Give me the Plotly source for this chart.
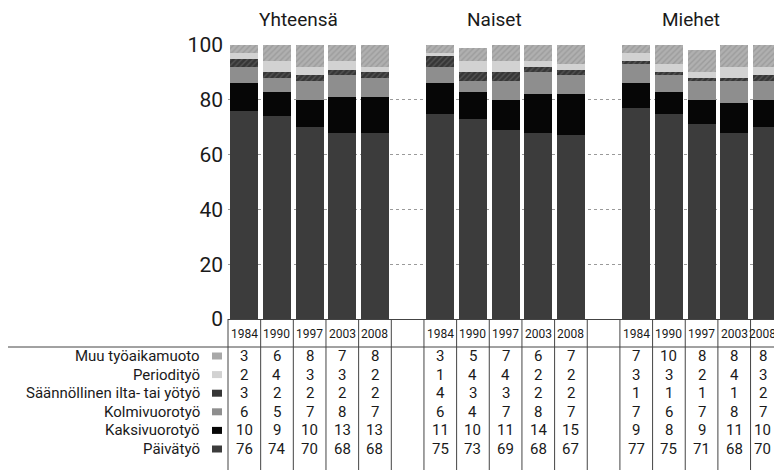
import plotly.graph_objects as go

# ---- data ----
groups = ["Yhteensä", "Naiset", "Miehet"]
years = ["1984", "1990", "1997", "2003", "2008"]

series_names = ["Päivätyö", "Kaksivuorotyö", "Kolmivuorotyö",
                "Säännöllinen ilta- tai yötyö", "Periodityö", "Muu työaikamuoto"]

# values: Yhteensä (5 years), Naiset (5 years), Miehet (5 years)
paivatyo      = [76, 74, 70, 68, 68,   75, 73, 69, 68, 67,   77, 75, 71, 68, 70]
kaksivuoro    = [10, 9, 10, 13, 13,    11, 10, 11, 14, 15,   9, 8, 9, 11, 10]
kolmivuoro    = [6, 5, 7, 8, 7,        6, 4, 7, 8, 7,        7, 6, 7, 8, 7]
saannollinen  = [3, 2, 2, 2, 2,        4, 3, 3, 2, 2,        1, 1, 1, 1, 2]
periodi       = [2, 4, 3, 3, 2,        1, 4, 4, 2, 2,        3, 3, 2, 4, 3]
muu           = [3, 6, 8, 7, 8,        3, 5, 7, 6, 7,        7, 10, 8, 8, 8]

y_ticks = [0, 20, 40, 60, 80, 100]

series_values = [paivatyo, kaksivuoro, kolmivuoro, saannollinen, periodi, muu]

# ---- styles ----
colors = ["#3c3c3c", "#060606", "#8e8e8e", "#363636", "#d2d2d2", "#a8a8a8"]
patterns = [None, None, None,
            dict(shape="/", fgcolor="#707070", bgcolor="#363636", size=4, solidity=0.35),
            None,
            dict(shape="/", fgcolor="#888888", bgcolor="#b0b0b0", size=4, solidity=0.35)]

FONT = "Liberation Sans Narrow, Arial Narrow, Roboto, sans-serif"
OFF = 8  # page body margin offset
W, H = 782 - OFF, 470 - OFF
P_LEFT, P_TOP, P_BOTTOM = 228, 45, 319  # plot area in page pixels
M_L, M_R, M_T = P_LEFT - OFF, 0, P_TOP - OFF
M_B = H - (P_BOTTOM - OFF)
PW, PH = W - M_L - M_R, H - M_T - M_B
SLOT = 32.66
XMIN = -0.5
XMAX = XMIN + PW / SLOT
GROUP_STEP = len(years) + 1

# positions of bars on the slot axis
xpos = [g * GROUP_STEP + i for g in range(len(groups)) for i in range(len(years))]
LAST = max(xpos)


def xp(xd):
    return (xd - XMIN) / (XMAX - XMIN)


def xpx(px):
    return (px - P_LEFT) / PW


def ypx(py):
    return (P_BOTTOM - py) / PH


def edge_shift(x):
    return -4 if x == LAST else 0


fig = go.Figure()
for name, vals, col, pat in zip(series_names, series_values, colors, patterns):
    marker = dict(color=col, line=dict(width=0))
    if pat:
        marker["pattern"] = pat
    fig.add_trace(go.Bar(x=xpos, y=vals, name=name, width=0.86, marker=marker,
                         showlegend=False, hoverinfo="y+name"))

shapes = []
annotations = []

# group titles
for g, gname in enumerate(groups):
    annotations.append(dict(text=gname, xref="paper", yref="paper",
                            x=xp(g * GROUP_STEP + 2), y=ypx(20), xshift=-11,
                            showarrow=False, xanchor="center", yanchor="middle",
                            font=dict(family=FONT, size=19, color="#1a1a1a")))

# table lines
line_col = "#444444"
n_slots = len(groups) * GROUP_STEP - 1
for k in range(n_slots + 1):
    xb = xp(k - 0.5)
    if xb <= 1.001:
        shapes.append(dict(type="line", xref="paper", yref="paper",
                           x0=xb, x1=xb, y0=ypx(319), y1=ypx(475),
                           line=dict(color=line_col, width=1)))
shapes.append(dict(type="line", xref="paper", yref="paper", x0=0, x1=1,
                   y0=ypx(319.5), y1=ypx(319.5), line=dict(color=line_col, width=1)))
shapes.append(dict(type="line", xref="paper", yref="paper", x0=xpx(6), x1=1,
                   y0=ypx(347), y1=ypx(347), line=dict(color=line_col, width=1)))

# year header
for x, yr in zip(xpos, years * len(groups)):
    annotations.append(dict(text=yr, xref="paper", yref="paper", x=xp(x), y=ypx(334),
                            xshift=edge_shift(x),
                            showarrow=False, xanchor="center", yanchor="middle",
                            font=dict(family=FONT, size=12, color="#1a1a1a")))

# table rows (top to bottom: reverse of stacking)
row_y0, row_dy = 356, 18.6
for r, idx in enumerate(reversed(range(len(series_names)))):
    py = row_y0 + r * row_dy
    annotations.append(dict(text=series_names[idx], xref="paper", yref="paper",
                            x=xpx(202), y=ypx(py), showarrow=False,
                            xanchor="right", yanchor="middle",
                            font=dict(family=FONT, size=15, color="#1a1a1a")))
    shapes.append(dict(type="rect", xref="paper", yref="paper",
                       x0=xpx(212), x1=xpx(222), y0=ypx(py - 3.5), y1=ypx(py + 3.5),
                       fillcolor=colors[idx], line=dict(width=0)))
    for x, v in zip(xpos, series_values[idx]):
        annotations.append(dict(text=str(v), xref="paper", yref="paper",
                                x=xp(x), y=ypx(py), xshift=edge_shift(x),
                                showarrow=False,
                                xanchor="center", yanchor="middle",
                                font=dict(family=FONT, size=15, color="#1a1a1a")))

fig.update_layout(
    width=W, height=H,
    margin=dict(l=M_L, r=M_R, t=M_T, b=M_B, pad=0, autoexpand=False),
    paper_bgcolor="white", plot_bgcolor="white",
    barmode="stack",
    showlegend=False,
    xaxis=dict(range=[XMIN, XMAX], showticklabels=False, showgrid=False,
               zeroline=False, showline=False, ticks="", automargin=False),
    yaxis=dict(range=[0, 100], tickvals=y_ticks, showgrid=True, gridcolor="#9a9a9a",
               griddash="dot", gridwidth=1, zeroline=False, showline=False,
               ticks="", ticklabelstandoff=4, automargin=False,
               tickfont=dict(family=FONT, size=21, color="#1a1a1a")),
    shapes=shapes,
    annotations=annotations,
    font=dict(family=FONT),
)

fig.write_html("out.html")
